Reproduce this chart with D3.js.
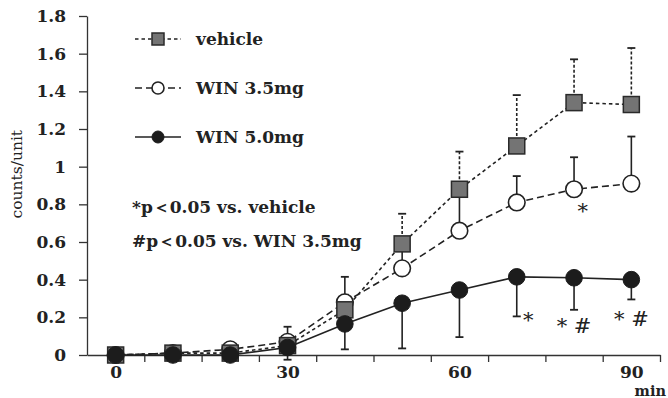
<!DOCTYPE html>
<html>
<head>
<meta charset="utf-8">
<script src="https://cdn.jsdelivr.net/npm/d3@7"></script>
<style>
  body { margin: 0; background: #fff; }
  svg { display: block; }
  text { font-family: "DejaVu Serif", serif; fill: #222; }
</style>
</head>
<body>
<div id="chart"></div>
<script>
// time points (min)
const times = [0, 10, 20, 30, 40, 50, 60, 70, 80, 90];
// mean counts/unit and error (SEM) per group
const vehicle    = [0, 0.01, 0.01, 0.05, 0.24, 0.59, 0.88, 1.11, 1.34, 1.33];
const vehicleErr = [0, 0.005, 0.01, 0.04, 0.08, 0.16, 0.20, 0.27, 0.23, 0.30];
const win35      = [0, 0.01, 0.03, 0.07, 0.28, 0.46, 0.66, 0.81, 0.88, 0.91];
const win35Err   = [0, 0.01, 0.02, 0.08, 0.135, 0.11, 0.20, 0.14, 0.17, 0.25];
const win50      = [0, 0, 0, 0.04, 0.165, 0.275, 0.345, 0.415, 0.41, 0.40];
const win50Err   = [0, 0, 0, 0.065, 0.135, 0.24, 0.25, 0.21, 0.17, 0.105];

const yTicks = [0, 0.2, 0.4, 0.6, 0.8, 1, 1.2, 1.4, 1.6, 1.8];
const xTicks = [5, 15, 25, 35, 45, 55, 65, 75, 85, 95];
const xLabels = [0, 30, 60, 90];

const legendNames = ['vehicle', 'WIN 3.5mg', 'WIN 5.0mg'];
const noteLines = ['*p\uFF1C0.05 vs. vehicle', '#p\uFF1C0.05 vs. WIN 3.5mg'];

// significance marks: where they sit (min, counts/unit) and label
const sigTimes  = [72, 80, 90, 81.5];
const sigValues = [0.149, 0.117, 0.152, 0.727];
const sigLabels = ['*', '* #', '* #', '*'];

const width = 668, height = 398;
const ink = '#222';

const svg = d3.select('#chart').append('svg')
  .attr('width', width)
  .attr('height', height);

const x = d3.scaleLinear().domain([-5, 95]).range([87, 660]);
const y = d3.scaleLinear().domain([0, 1.8]).range([355, 16]);

// axes
svg.append('g')
  .attr('transform', 'translate(' + x(-5) + ',0)')
  .call(d3.axisLeft(y).tickValues(yTicks).tickSize(8).tickSizeOuter(0)
    .tickPadding(13).tickFormat(d3.format('~g')));

svg.append('g')
  .attr('transform', 'translate(0,' + y(0) + ')')
  .call(d3.axisBottom(x).tickValues(xTicks).tickSize(7).tickSizeOuter(0).tickFormat(''));

const xLab = svg.append('g')
  .attr('transform', 'translate(0,' + y(0) + ')')
  .call(d3.axisBottom(x).tickValues(xLabels).tickSize(0).tickPadding(11));
xLab.select('.domain').remove();

svg.selectAll('.domain, .tick line').attr('stroke', '#333').attr('stroke-width', 1.3);
svg.selectAll('.tick text')
  .attr('font-family', '"DejaVu Serif", serif')
  .attr('font-size', 17).attr('font-weight', 'bold').attr('fill', ink);

svg.append('text')
  .attr('x', 666).attr('y', 396)
  .attr('text-anchor', 'end')
  .attr('font-size', 14.5).attr('font-weight', 'bold')
  .text('min');

svg.append('text')
  .attr('transform', 'translate(22,' + y(0.96) + ') rotate(-90)')
  .attr('text-anchor', 'middle')
  .attr('font-size', 15.5)
  .text('counts/unit');

// series
const series = [
  { vals: vehicle, err: vehicleErr, dir: 1, dash: '3.5,3', errDash: '3,2', marker: 'square' },
  { vals: win35, err: win35Err, dir: 1, dash: '7,4', errDash: null, marker: 'open' },
  { vals: win50, err: win50Err, dir: -1, dash: null, errDash: null, marker: 'filled' }
];

const line = d3.line().x((d) => x(d[0])).y((d) => y(d[1]));

series.forEach((s) => {
  const pts = times.map((t, i) => [t, s.vals[i]]);
  svg.append('path')
    .datum(pts)
    .attr('d', line)
    .attr('fill', 'none')
    .attr('stroke', ink)
    .attr('stroke-width', 1.6)
    .attr('stroke-dasharray', s.dash);
});

// error bars
series.forEach((s) => {
  const g = svg.append('g');
  times.forEach((t, i) => {
    if (s.err[i] < 0.02) return;
    const end = s.vals[i] + s.dir * s.err[i];
    g.append('line')
      .attr('x1', x(t)).attr('x2', x(t))
      .attr('y1', y(s.vals[i])).attr('y2', y(end))
      .attr('stroke', ink).attr('stroke-width', 1.6)
      .attr('stroke-dasharray', s.errDash);
    g.append('line')
      .attr('x1', x(t) - 4).attr('x2', x(t) + 4)
      .attr('y1', y(end)).attr('y2', y(end))
      .attr('stroke', ink).attr('stroke-width', 1.8);
  });
});

function drawMarker(g, kind, cx, cy, r) {
  if (kind === 'square') {
    g.append('rect')
      .attr('x', cx - r).attr('y', cy - r)
      .attr('width', 2 * r).attr('height', 2 * r)
      .attr('fill', '#747474').attr('stroke', '#2a2a2a').attr('stroke-width', 1.5);
  } else if (kind === 'open') {
    g.append('circle')
      .attr('cx', cx).attr('cy', cy).attr('r', r)
      .attr('fill', '#fff').attr('stroke', ink).attr('stroke-width', 1.6);
  } else {
    g.append('circle')
      .attr('cx', cx).attr('cy', cy).attr('r', r)
      .attr('fill', '#1c1c1c').attr('stroke', '#1c1c1c');
  }
}

// markers: open circles, then squares, then filled circles on top
[series[1], series[0], series[2]].forEach((s) => {
  const g = svg.append('g');
  times.forEach((t, i) => {
    drawMarker(g, s.marker, x(t), y(s.vals[i]), s.marker === 'square' ? 8 : 8.3);
  });
});

// significance marks
sigTimes.forEach((t, i) => {
  svg.append('text')
    .attr('x', x(t)).attr('y', y(sigValues[i]))
    .attr('text-anchor', 'middle')
    .attr('font-size', 21)
    .text(sigLabels[i]);
});

// legend
const legend = svg.append('g');
series.forEach((s, i) => {
  const ly = 39 + i * 49;
  legend.append('line')
    .attr('x1', 135).attr('x2', 181).attr('y1', ly).attr('y2', ly)
    .attr('stroke', ink).attr('stroke-width', 1.6)
    .attr('stroke-dasharray', s.dash);
  drawMarker(legend, s.marker, 158, ly, 6);
  legend.append('text')
    .attr('x', 196).attr('y', ly + 6)
    .attr('font-size', 17).attr('font-weight', 'bold')
    .text(legendNames[i]);
});

noteLines.forEach((txt, i) => {
  svg.append('text')
    .attr('x', 132).attr('y', 213 + i * 34)
    .attr('font-size', 17).attr('font-weight', 'bold')
    .text(txt);
});
</script>
</body>
</html>
